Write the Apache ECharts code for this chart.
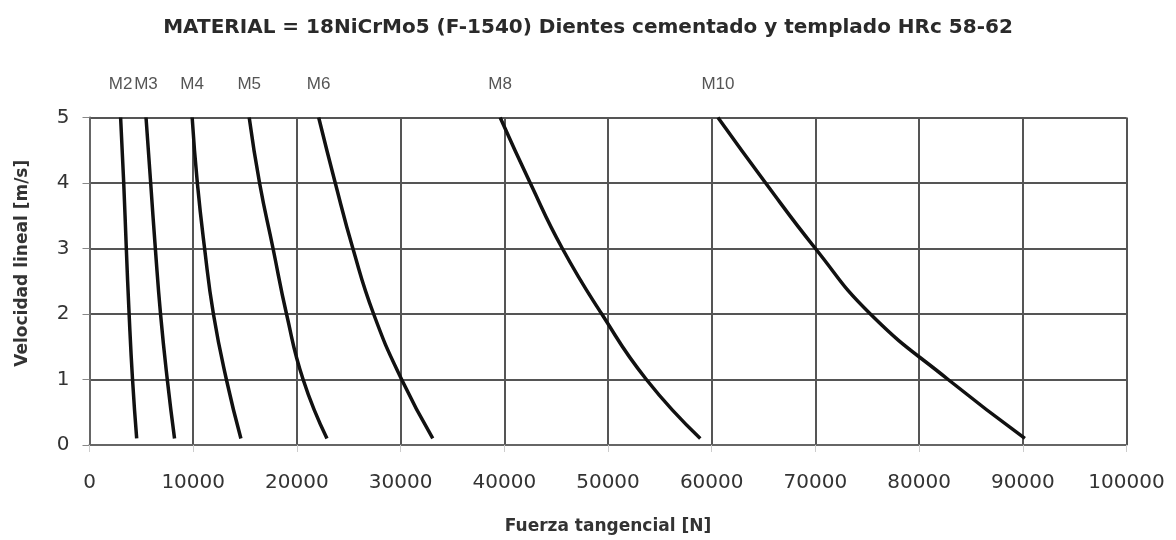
<!DOCTYPE html>
<html>
<head>
<meta charset="utf-8">
<script src="https://cdn.jsdelivr.net/npm/echarts@6/dist/echarts.min.js"></script>
<style>html,body{margin:0;padding:0;background:#fff}#c{width:1176px;height:540px}</style>
</head>
<body>
<div id="c"></div>
<script>
var seriesNames = ['M2','M3','M4','M5','M6','M8','M10'];
var velocity = [5, 4, 3, 2, 1, 0.1];
var M2  = [3000, 3300, 3550, 3820, 4150, 4550];
var M3  = [5450, 5900, 6350, 6850, 7500, 8200];
var M4  = [9900, 10400, 11100, 11950, 13200, 14600];
var M5  = [15400, 16400, 17700, 19000, 20600, 22900];
var M6  = [22100, 23700, 25400, 27400, 30100, 33100];
var M8  = [39600, 42500, 45600, 49400, 53700, 58900];
var M10 = [60600, 65200, 70000, 75300, 82800, 90200];
var forces = [M2, M3, M4, M5, M6, M8, M10];
var xTicks = [0,10000,20000,30000,40000,50000,60000,70000,80000,90000,100000];
var yTicks = [0,1,2,3,4,5];

var FONT = 'DejaVu Sans, Arial, sans-serif';
var chart = echarts.init(document.getElementById('c'));
var series = seriesNames.map(function(name, i){
  return {
    name: name,
    type: 'line',
    smooth: 0.5,
    symbol: 'none',
    lineStyle: {color: '#111', width: 3.5},
    data: forces[i].map(function(f, j){ return [f, velocity[j]]; }),
    markPoint: {
      symbol: 'circle', symbolSize: 1,
      itemStyle: {color: 'transparent'},
      label: {show: true, formatter: name, position: 'top', distance: 24,
              color: '#555', fontSize: 17, fontFamily: 'Liberation Sans, Arial, sans-serif'},
      data: [{coord: [forces[i][0], velocity[0]]}]
    }
  };
});

chart.setOption({
  animation: false,
  title: {
    text: 'MATERIAL = 18NiCrMo5 (F-1540) Dientes cementado y templado HRc 58-62',
    left: 'center', top: 13,
    textStyle: {fontSize: 20, fontWeight: 'bold', color: '#2a2a2a', fontFamily: FONT}
  },
  grid: {left: 89.5, right: 49.5, top: 117.5, bottom: 95, containLabel: false, outerBoundsMode: 'none'},
  xAxis: {
    type: 'value', min: xTicks[0], max: xTicks[xTicks.length-1], interval: 10000,
    name: 'Fuerza tangencial [N]', nameLocation: 'middle', nameGap: 73,
    nameTextStyle: {fontSize: 17, fontWeight: 'bold', color: '#333', fontFamily: FONT},
    axisLine: {lineStyle: {color: '#666', width: 2}},
    axisTick: {show: true, length: 7, lineStyle: {color: '#ccc'}},
    axisLabel: {fontSize: 20, color: '#333', margin: 28, fontFamily: FONT,
                formatter: function(v){ return String(v); }},
    splitLine: {show: true, lineStyle: {color: '#555', width: 2}}
  },
  yAxis: {
    type: 'value', min: yTicks[0], max: yTicks[yTicks.length-1], interval: 1,
    name: 'Velocidad lineal [m/s]', nameLocation: 'middle', nameGap: 58,
    nameTextStyle: {fontSize: 17, fontWeight: 'bold', color: '#333', fontFamily: FONT,
                    padding: [0, 0, 0, 36]},
    axisLine: {show: true, lineStyle: {color: '#666', width: 2}},
    axisTick: {show: true, length: 7, lineStyle: {color: '#888'}},
    axisLabel: {fontSize: 20, color: '#333', margin: 20, fontFamily: FONT},
    splitLine: {show: true, lineStyle: {color: '#555', width: 2}}
  },
  series: series
});
</script>
</body>
</html>
